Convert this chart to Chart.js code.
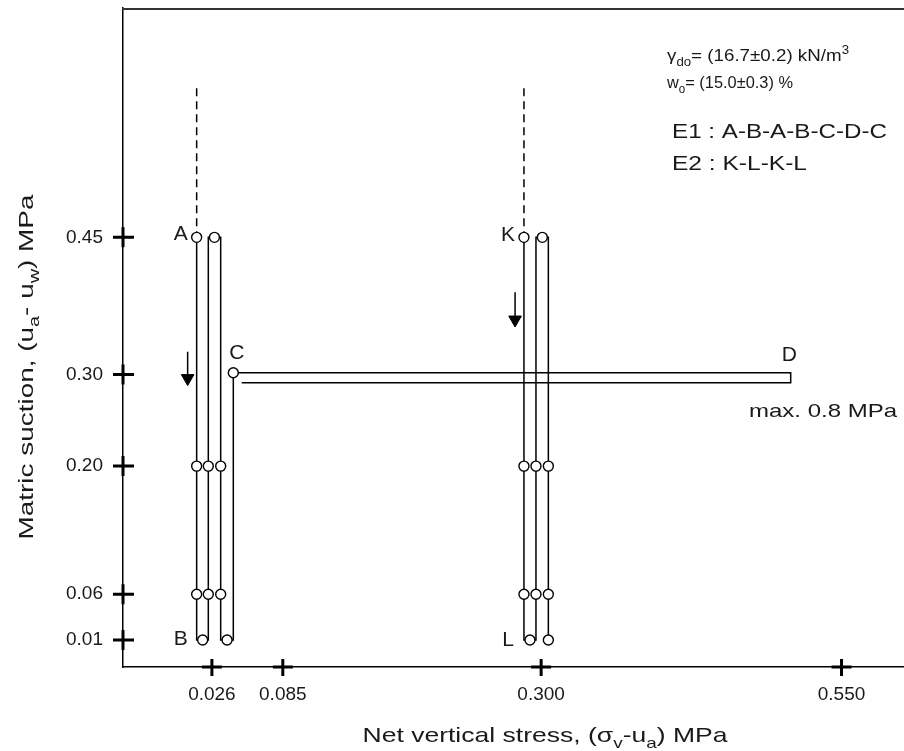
<!DOCTYPE html>
<html>
<head>
<meta charset="utf-8">
<script src="https://cdn.jsdelivr.net/npm/chart.js@4"></script>
<style>
html, body { margin: 0; padding: 0; background: #fff; overflow: hidden; }
#wrap { width: 904px; height: 751px; }
</style>
</head>
<body>
<div id="wrap"><canvas id="chart"></canvas></div>
<script>
// axis ticks (MPa)
const stressTicks = [0.026, 0.085, 0.300, 0.550];
const suctionTicks = [0.01, 0.06, 0.20, 0.30, 0.45];

// E1 : A-B-A-B-C-D-C  (legs drawn side by side around 0.026 MPa)
const e1Stress  = [0.0133, 0.0133, 0.0230, 0.0230, 0.0333, 0.0333, 0.0438, 0.0438, 0.5077, 0.5077, 0.0508];
const e1Suction = [0.450, 0.010, 0.010, 0.450, 0.450, 0.010, 0.010, 0.302, 0.302, 0.291, 0.291];
// E2 : K-L-K-L  (around 0.300 MPa)
const e2Stress  = [0.2857, 0.2857, 0.2957, 0.2957, 0.3060, 0.3060];
const e2Suction = [0.450, 0.010, 0.010, 0.450, 0.450, 0.010];

// measured states (circles)
const e1PtStress  = [0.0133, 0.0281, 0.0183, 0.0386, 0.0438, 0.0133, 0.0230, 0.0333, 0.0133, 0.0230, 0.0333];
const e1PtSuction = [0.450, 0.450, 0.010, 0.010, 0.302, 0.20, 0.20, 0.20, 0.06, 0.06, 0.06];
const e2PtStress  = [0.2857, 0.3010, 0.2907, 0.3060, 0.2857, 0.2957, 0.3060, 0.2857, 0.2957, 0.3060];
const e2PtSuction = [0.450, 0.450, 0.010, 0.010, 0.20, 0.20, 0.20, 0.06, 0.06, 0.06];

// initial state (dashed) and drying/wetting arrows
const dashStress = [0.0133, 0.2857];
const dashSuction = [0.613, 0.450];
const arrowStress = [0.0058, 0.2783];
const arrowFrom = [0.325, 0.390];
const arrowTo = [0.296, 0.360];

// point names
const labelNames   = ['A', 'B', 'C', 'D', 'K', 'L'];
const labelStress  = [0.0133, 0.0133, 0.0438, 0.5077, 0.2857, 0.2857];
const labelSuction = [0.450, 0.010, 0.302, 0.302, 0.450, 0.010];
const labelAlign   = ['right', 'right', 'left', 'left', 'right', 'right'];
const labelShift   = [[-9, 3], [-9, 5], [-4, -14], [-9, -12], [-9, 4], [-10, 6]];

const FONT = '"Liberation Sans", Arial, sans-serif';
const INK = '#1a1a1a';

function pts(xs, ys) { return xs.map((x, i) => ({ x: x, y: ys[i] })); }

// text with sub/superscripts, stretched to a target width
function richText(ctx, parts, x, y, o) {
  const size = o.size;
  const fontOf = k => (k ? Math.round(size * 0.72) : size) + 'px ' + FONT;
  ctx.save();
  ctx.translate(x, y);
  if (o.rotate) ctx.rotate(o.rotate);
  let w = 0;
  parts.forEach(p => { ctx.font = fontOf(p[1]); w += ctx.measureText(p[0]).width; });
  const sx = o.width ? o.width / w : 1;
  ctx.scale(sx, 1);
  let cx = o.align === 'center' ? -w / 2 : (o.align === 'right' ? -w : 0);
  ctx.fillStyle = INK;
  ctx.textBaseline = 'alphabetic';
  parts.forEach(p => {
    ctx.font = fontOf(p[1]);
    const dy = p[1] === 'sub' ? size * 0.28 : (p[1] === 'sup' ? -size * 0.42 : 0);
    ctx.fillText(p[0], cx, dy);
    cx += ctx.measureText(p[0]).width;
  });
  ctx.restore();
}

// keep the plot frame where the figure has it
function noPad(s) { s.paddingTop = 0; s.paddingBottom = 0; s.paddingLeft = 0; s.paddingRight = 0; }

const decor = {
  id: 'decor',
  afterDraw(chart) {
    const ctx = chart.ctx, a = chart.chartArea;
    const xs = chart.scales.x, ys = chart.scales.y;
    ctx.save();
    // frame top
    ctx.strokeStyle = '#333';
    ctx.lineWidth = 2;
    ctx.beginPath();
    ctx.moveTo(a.left - 1, a.top + 1);
    ctx.lineTo(a.right, a.top + 1);
    ctx.stroke();
    // "+" tick marks
    ctx.strokeStyle = '#000';
    ctx.lineWidth = 3;
    ctx.beginPath();
    stressTicks.forEach(v => {
      const px = xs.getPixelForValue(v);
      ctx.moveTo(px - 10, a.bottom); ctx.lineTo(px + 10, a.bottom);
      ctx.moveTo(px, a.bottom - 8); ctx.lineTo(px, a.bottom + 9);
    });
    suctionTicks.forEach(v => {
      const py = ys.getPixelForValue(v);
      ctx.moveTo(a.left - 10, py); ctx.lineTo(a.left + 11, py);
      ctx.moveTo(a.left, py - 10); ctx.lineTo(a.left, py + 10);
    });
    ctx.stroke();
    ctx.restore();

    // point names
    labelNames.forEach((n, i) => {
      richText(ctx, [[n, '']],
        xs.getPixelForValue(labelStress[i]) + labelShift[i][0],
        ys.getPixelForValue(labelSuction[i]) + labelShift[i][1],
        { size: 21, align: labelAlign[i] });
    });
    richText(ctx, [['max. 0.8 MPa', '']], 749, 417, { size: 19, width: 148 });

    // specimen info
    richText(ctx, [['\u03b3', ''], ['do', 'sub'], ['= (16.7\u00b10.2) kN/m', ''], ['3', 'sup']], 667, 61, { size: 17, width: 182 });
    richText(ctx, [['w', ''], ['o', 'sub'], ['= (15.0\u00b10.3) %', '']], 667, 88, { size: 17, width: 126 });
    richText(ctx, [['E1 : A-B-A-B-C-D-C', '']], 672, 138, { size: 20, width: 215 });
    richText(ctx, [['E2 : K-L-K-L', '']], 672, 170, { size: 20, width: 135 });

    // axis titles
    richText(ctx, [['Net vertical stress, (\u03c3', ''], ['v', 'sub'], ['-u', ''], ['a', 'sub'], [') MPa', '']],
      545, 742, { size: 21, width: 365, align: 'center' });
    richText(ctx, [['Matric suction, (u', ''], ['a', 'sub'], ['- u', ''], ['w', 'sub'], [') MPa', '']],
      33, 367, { size: 21, width: 345, align: 'center', rotate: -Math.PI / 2 });
  }
};

const lineStyle = { showLine: true, borderColor: '#000', borderWidth: 1.5, pointRadius: 0, fill: false, order: 2 };

new Chart(document.getElementById('chart'), {
  type: 'scatter',
  data: {
    datasets: [
      { label: 'E1 states', data: pts(e1PtStress, e1PtSuction), pointStyle: 'circle', pointRadius: 5,
        pointBackgroundColor: '#fff', pointBorderColor: '#000', pointBorderWidth: 1.4, order: 0 },
      { label: 'E2 states', data: pts(e2PtStress, e2PtSuction), pointStyle: 'circle', pointRadius: 5,
        pointBackgroundColor: '#fff', pointBorderColor: '#000', pointBorderWidth: 1.4, order: 0 },
      Object.assign({ label: 'E1', data: pts(e1Stress, e1Suction) }, lineStyle),
      Object.assign({ label: 'E2', data: pts(e2Stress, e2Suction) }, lineStyle),
      Object.assign({ label: 'initial A', data: pts([dashStress[0], dashStress[0]], dashSuction), borderDash: [8, 5] }, lineStyle),
      Object.assign({ label: 'initial K', data: pts([dashStress[1], dashStress[1]], dashSuction), borderDash: [8, 5] }, lineStyle),
      Object.assign({ label: 'arrow 1', data: pts([arrowStress[0], arrowStress[0]], [arrowFrom[0], arrowTo[0]]) }, lineStyle,
        { pointRadius: [0, 7.3], pointStyle: 'triangle', rotation: 180, pointBackgroundColor: '#000', pointBorderColor: '#000', pointBorderWidth: 1 }),
      Object.assign({ label: 'arrow 2', data: pts([arrowStress[1], arrowStress[1]], [arrowFrom[1], arrowTo[1]]) }, lineStyle,
        { pointRadius: [0, 7.3], pointStyle: 'triangle', rotation: 180, pointBackgroundColor: '#000', pointBorderColor: '#000', pointBorderWidth: 1 })
    ]
  },
  options: {
    responsive: true,
    maintainAspectRatio: false,
    animation: false,
    devicePixelRatio: 1,
    layout: { autoPadding: false, padding: { top: 8, left: 0, right: 0, bottom: 0 } },
    plugins: { legend: { display: false }, tooltip: { enabled: false } },
    scales: {
      x: {
        type: 'linear', min: -0.048, max: 0.602,
        afterBuildTicks: s => { s.ticks = stressTicks.map(v => ({ value: v })); },
        afterFit: s => { s.height = 84; noPad(s); },
        grid: { drawOnChartArea: false, drawTicks: false },
        border: { display: true, color: '#000', width: 1.5 },
        ticks: { padding: 16, color: INK, font: { family: FONT, size: 19 }, maxRotation: 0,
          callback: v => v.toFixed(3) }
      },
      y: {
        type: 'linear', min: -0.0195, max: 0.7006,
        afterBuildTicks: s => { s.ticks = suctionTicks.map(v => ({ value: v })); },
        afterFit: s => { s.width = 123; noPad(s); },
        grid: { drawOnChartArea: false, drawTicks: false },
        border: { display: true, color: '#000', width: 1.5 },
        ticks: { padding: 20, color: INK, font: { family: FONT, size: 19 },
          callback: v => v.toFixed(2) }
      }
    }
  },
  plugins: [decor]
});
</script>
</body>
</html>
